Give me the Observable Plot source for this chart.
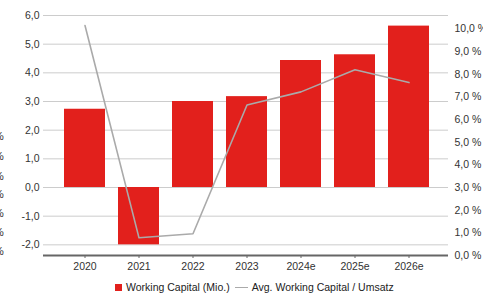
<!DOCTYPE html>
<html>
<head>
<meta charset="utf-8">
<script src="https://cdn.jsdelivr.net/npm/d3@7"></script>
<script src="https://cdn.jsdelivr.net/npm/@observablehq/plot@0.6"></script>
<style>
  body { margin: 0; background: #fff; font-family: "Liberation Sans", Arial, sans-serif; }
  #wrap { position: relative; width: 483px; height: 293px; overflow: hidden; }
  .frag { position: absolute; left: -6px; font-size: 11px; color: #333; line-height: 1; }
  #legend { position: absolute; left: 115px; top: 281px; height: 12px; display: flex; align-items: center; font-size: 10.5px; line-height: 12px; color: #222; white-space: nowrap; }
  .sq { display: inline-block; width: 7px; height: 7px; background: #e2201c; margin-right: 4px; }
  .dash { display: inline-block; width: 13px; height: 0; border-top: 1.5px solid #aaa; margin: 0 4px 0 5px; }
</style>
</head>
<body>
<div id="wrap">
  <div id="chart"></div>
  <div id="legend"><span class="sq"></span><span>Working Capital (Mio.)</span><span class="dash"></span><span>Avg. Working Capital / Umsatz</span></div>
</div>
<script>
const years = ["2020", "2021", "2022", "2023", "2024e", "2025e", "2026e"];
const workingCapital = [2.73, -2.0, 3.0, 3.17, 4.43, 4.63, 5.63];
const avgRatio = [10.15, 0.78, 0.96, 6.64, 7.22, 8.2, 7.63];
const leftTicks = [-2, -1, 0, 1, 2, 3, 4, 5, 6];
const rightTicks = [0, 1, 2, 3, 4, 5, 6, 7, 8, 9, 10];
const fragLabels = ["%", "%", "%", "%", "%", "%", "%"];

const leftMin = -2.372, leftMax = 6, rightMax = 10.59;
const toLeft = p => leftMin + p * (leftMax - leftMin) / rightMax;
const toRight = v => (v - leftMin) * rightMax / (leftMax - leftMin);
const fmt = d => d.toFixed(1).replace(".", ",");

const bars = years.map((y, i) => ({year: y, value: workingCapital[i]}));
const line = years.map((y, i) => ({year: y, value: toLeft(avgRatio[i])}));

const plot = Plot.plot({
  width: 483,
  height: 276,
  marginTop: 15,
  marginBottom: 21,
  marginLeft: 43,
  marginRight: 35,
  style: {fontFamily: "'Liberation Sans', Arial, sans-serif", fontSize: "10px", color: "#333", background: "#fff"},
  x: {type: "band", domain: years, range: [57, 435], paddingInner: 0.25, paddingOuter: 0.125, label: null},
  y: {domain: [leftMin, leftMax], label: null},
  marks: [
    Plot.ruleY(leftTicks, {stroke: "#cccccc", strokeWidth: 1}),
    Plot.barY(bars, {x: "year", y: "value", fill: "#e2201c"}),
    Plot.ruleY([leftMin], {stroke: "#666", strokeWidth: 2}),
    Plot.lineY(line, {x: "year", y: "value", stroke: "#aaaaaa", strokeWidth: 1.6}),
    Plot.axisY(leftTicks, {anchor: "left", tickSize: 0, tickPadding: 4, tickFormat: fmt, fill: "#333", fontSize: 10.5}),
    Plot.axisY(rightTicks.map(toLeft), {anchor: "right", tickSize: 0, tickPadding: 6, textAnchor: "start", tickFormat: d => fmt(Math.round(toRight(d) * 10) / 10) + " %", fill: "#333", fontSize: 10.5}),
    Plot.axisX({anchor: "bottom", tickSize: 3, tickPadding: 4, stroke: "#666", fill: "#333", fontSize: 10.5})
  ]
});
document.getElementById("chart").appendChild(plot);

const fragYs = [131, 151, 171, 189, 208, 227, 246];
const wrap = document.getElementById("wrap");
fragLabels.forEach((t, i) => {
  const s = document.createElement("span");
  s.className = "frag";
  s.style.top = fragYs[i] + "px";
  s.textContent = t;
  wrap.appendChild(s);
});
</script>
</body>
</html>
